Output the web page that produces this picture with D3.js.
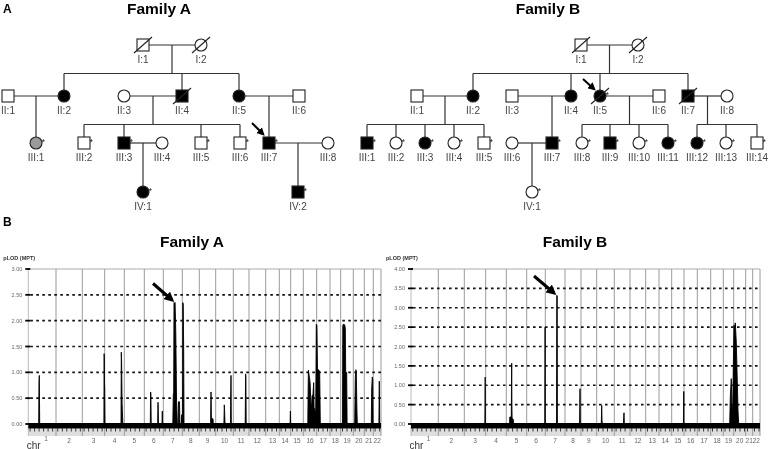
<!DOCTYPE html>
<html><head><meta charset="utf-8">
<script src="https://cdn.jsdelivr.net/npm/d3@7"></script>
<style>body{margin:0;background:#fff}svg{display:block;will-change:transform}text{font-family:"Liberation Sans",Arial,sans-serif}</style>
</head><body><svg id="c" width="769" height="449"></svg>
<script>
// ---------------- DATA ----------------
const chromosomes = d3.range(1, 23).map(String);
// approximate chromosome map lengths (cM) used by each linkage plot
const chrLenA = [277,263,224,196,200,190,190,170,164,176,157,167,136,114,126,134,133,107,126,110,90,77];
const chrLenB = [273,260,214,206,204,186,197,160,157,176,157,157,133,127,123,133,134,126,104,120,70,73];
const yTicksA = [0, 0.5, 1, 1.5, 2, 2.5, 3];
const yTicksB = [0, 0.5, 1, 1.5, 2, 2.5, 3, 3.5, 4];
// LOD profile points: [chromosome, cM within chromosome, pLOD]
const lodA = [
 [1,104,0],[1,107,0.82],[1,110,0.94],[1,114,0],
 [3,216,0],[3,218,1.36],[3,220,1.3],[3,222,0.78],[3,224,0.7],[4,3,0],
 [4,163,0],[4,166,1.39],[4,169,1.2],[4,174,0.4],[4,181,0],
 [6,60,0],[6,63,0.62],[6,66,0.58],[6,69,0],
 [6,134,0],[6,137,0.42],[6,139,0.3],[6,142,0],
 [6,177,0],[6,180,0.25],[6,183,0],
 [7,95,0],[7,100,0.57],[7,104,0.6],[7,107,2.35],[7,112,2.33],[7,118,2.35],[7,125,1.75],[7,132,0.5],[7,140,0],
 [7,148,0],[7,152,0.43],[7,162,0.43],[7,166,0],[7,180,0],[7,184,0.18],[7,188,0],
 [8,2,0],[8,5,2.35],[8,9,2.32],[8,14,1.4],[8,17,0],
 [9,113,0],[9,117,0.62],[9,121,0.1],[9,137,0.1],[9,140,0],
 [10,82,0],[10,86,0.37],[10,90,0.2],[10,93,0],
 [10,148,0],[10,150,0.5],[10,153,0.94],[10,156,0],
 [11,119,0],[11,123,0.97],[11,126,0.9],[11,129,0],
 [14,108,0],[14,111,0.25],[14,114,0],
 [16,45,0],[16,48,0.6],[16,51,1.04],[16,60,0.92],[16,68,0.8],[16,76,0.4],[16,82,0.33],[16,88,0.55],[16,96,0.55],
 [16,104,0.8],[16,108,0.3],[16,114,0.3],[16,124,0.2],[16,130,1.93],[17,2,1.9],[17,8,1.05],[17,20,1.05],[17,30,1.0],[17,36,0],
 [19,18,0],[19,21,1.9],[19,25,1.93],[19,40,1.92],[19,46,1.85],[19,50,1.0],[19,60,1.0],[19,64,0],
 [20,14,0],[20,20,0.9],[20,26,1.05],[20,30,1.0],[20,36,0.3],[20,40,0],
 [21,70,0],[21,74,0.68],[21,80,0.91],[21,84,0.85],[21,88,0],
 [22,56,0],[22,60,0.83],[22,64,0]
];
const lodB = [
 [3,206,0],[3,209,1.21],[3,211,0],
 [5,32,0],[5,35,0.18],[5,50,0.18],[5,52,1.0],[5,54,1.57],[5,56,0.5],[5,58,0.15],[5,70,0.12],[5,72,0],
 [6,181,0],[6,184,2.5],[6,186,0],
 [7,112,0],[7,115,3.32],[7,119,3.3],[7,121,0],
 [8,146,0],[8,150,0.91],[8,153,0],
 [10,46,0],[10,50,0.48],[10,53,0.1],[10,56,0],
 [11,92,0],[11,95,0.2],[11,97,0.29],[11,100,0],
 [15,117,0],[15,121,0.84],[15,123,0],
 [19,64,0],[19,70,0.7],[19,74,0.9],[19,80,1.17],[19,86,0.5],[19,94,0.3],[19,100,1.5],
 [20,3,2.55],[20,10,2.5],[20,16,2.61],[20,26,2.1],[20,32,1.5],[20,36,1.1],[20,43,0.35],[20,50,0]
];
// pedigrees: sex M/F, status A affected / U unaffected / G grey, dec deceased, star genotyped
const pedA = [
 {id:"I:1",sex:"M",st:"U",dec:1,star:0},{id:"I:2",sex:"F",st:"U",dec:1,star:0},
 {id:"II:1",sex:"M",st:"U",dec:0,star:0},{id:"II:2",sex:"F",st:"A",dec:0,star:0},
 {id:"II:3",sex:"F",st:"U",dec:0,star:0},{id:"II:4",sex:"M",st:"A",dec:1,star:0},
 {id:"II:5",sex:"F",st:"A",dec:0,star:0},{id:"II:6",sex:"M",st:"U",dec:0,star:0},
 {id:"III:1",sex:"F",st:"G",dec:0,star:1},{id:"III:2",sex:"M",st:"U",dec:0,star:1},
 {id:"III:3",sex:"M",st:"A",dec:0,star:1},{id:"III:4",sex:"F",st:"U",dec:0,star:0},
 {id:"III:5",sex:"M",st:"U",dec:0,star:1},{id:"III:6",sex:"M",st:"U",dec:0,star:1},
 {id:"III:7",sex:"M",st:"A",dec:0,star:1,proband:1},{id:"III:8",sex:"F",st:"U",dec:0,star:0},
 {id:"IV:1",sex:"F",st:"A",dec:0,star:1},{id:"IV:2",sex:"M",st:"A",dec:0,star:1}
];
const unionsA = [
 {p:["I:1","I:2"],kids:["II:2","II:4","II:5"]},
 {p:["II:1","II:2"],kids:["III:1"]},
 {p:["II:3","II:4"],kids:["III:2","III:3","III:5","III:6"]},
 {p:["II:5","II:6"],kids:["III:7"]},
 {p:["III:3","III:4"],kids:["IV:1"]},
 {p:["III:7","III:8"],kids:["IV:2"]}
];
const pedB = [
 {id:"I:1",sex:"M",st:"U",dec:1,star:0},{id:"I:2",sex:"F",st:"U",dec:1,star:0},
 {id:"II:1",sex:"M",st:"U",dec:0,star:0},{id:"II:2",sex:"F",st:"A",dec:0,star:0},
 {id:"II:3",sex:"M",st:"U",dec:0,star:0},{id:"II:4",sex:"F",st:"A",dec:0,star:0},
 {id:"II:5",sex:"F",st:"A",dec:1,star:1,proband:1},{id:"II:6",sex:"M",st:"U",dec:0,star:0},
 {id:"II:7",sex:"M",st:"A",dec:1,star:0},{id:"II:8",sex:"F",st:"U",dec:0,star:0},
 {id:"III:1",sex:"M",st:"A",dec:0,star:1},{id:"III:2",sex:"F",st:"U",dec:0,star:1},
 {id:"III:3",sex:"F",st:"A",dec:0,star:1},{id:"III:4",sex:"F",st:"U",dec:0,star:1},
 {id:"III:5",sex:"M",st:"U",dec:0,star:1},{id:"III:6",sex:"F",st:"U",dec:0,star:0},
 {id:"III:7",sex:"M",st:"A",dec:0,star:1},{id:"III:8",sex:"F",st:"U",dec:0,star:1},
 {id:"III:9",sex:"M",st:"A",dec:0,star:1},{id:"III:10",sex:"F",st:"U",dec:0,star:1},
 {id:"III:11",sex:"F",st:"A",dec:0,star:1},{id:"III:12",sex:"F",st:"A",dec:0,star:1},
 {id:"III:13",sex:"F",st:"U",dec:0,star:1},{id:"III:14",sex:"M",st:"U",dec:0,star:1},
 {id:"IV:1",sex:"F",st:"U",dec:0,star:1}
];
const unionsB = [
 {p:["I:1","I:2"],kids:["II:2","II:4","II:5","II:7"]},
 {p:["II:1","II:2"],kids:["III:1","III:2","III:3","III:4","III:5"]},
 {p:["II:3","II:4"],kids:["III:7"]},
 {p:["II:5","II:6"],kids:["III:8","III:9","III:10","III:11"]},
 {p:["II:7","II:8"],kids:["III:12","III:13","III:14"]},
 {p:["III:6","III:7"],kids:["IV:1"]}
];
// ---------------- LAYOUT ----------------
const layoutA = {"I:1":143,"I:2":201,"II:1":8,"II:2":64,"II:3":124,"II:4":182,"II:5":239,"II:6":299,
 "III:1":36,"III:2":84,"III:3":124,"III:4":162,"III:5":201,"III:6":240,"III:7":269,"III:8":328,"IV:1":143,"IV:2":298};
const layoutB = {"I:1":581,"I:2":638,"II:1":417,"II:2":473,"II:3":512,"II:4":571,"II:5":600,"II:6":659,"II:7":688,"II:8":727,
 "III:1":367,"III:2":396,"III:3":425,"III:4":454,"III:5":484,"III:6":512,"III:7":552,"III:8":582,"III:9":610,"III:10":639,
 "III:11":668,"III:12":697,"III:13":726,"III:14":757,"IV:1":532};

const svg = d3.select("#c");
svg.append("rect").attr("width",769).attr("height",449).attr("fill","#fff");
const defs = svg.append("defs");
function marker(id, size){
  defs.append("marker").attr("id",id).attr("viewBox","0 0 10 10").attr("refX",7).attr("refY",5)
    .attr("markerUnits","userSpaceOnUse").attr("markerWidth",size).attr("markerHeight",size).attr("orient","auto")
    .append("path").attr("d","M0,0L10,5L0,10z").attr("fill","#000");
}
marker("ahBig", 10); marker("ahSmall", 8);

svg.append("text").attr("x",3).attr("y",13).attr("font-size",12).attr("font-weight","bold").text("A");
svg.append("text").attr("x",3).attr("y",226).attr("font-size",12).attr("font-weight","bold").text("B");

const genY = d3.scaleOrdinal().domain(["I","II","III","IV"]).range([45,96,143,192]);

function drawPedigree(people, unions, layout, title, titleX){
  const g = svg.append("g");
  g.append("text").attr("x",titleX).attr("y",14).attr("text-anchor","middle").attr("font-size",15.5).attr("font-weight","bold").text(title);
  const X = id => layout[id];
  const Y = id => genY(id.split(":")[0]);
  const r = 6;
  const lc = "#333", lw = 1.2;
  unions.forEach(u=>{
    const [a,b] = u.p; const y = Y(a);
    const xa = X(a), xb = X(b);
    const left = Math.min(xa,xb), right = Math.max(xa,xb);
    g.append("line").attr("x1",left+r).attr("x2",right-r).attr("y1",y).attr("y2",y).attr("stroke",lc).attr("stroke-width",lw);
    if (u.kids.length===1){
      const k = u.kids[0]; const kx = X(k);
      g.append("line").attr("x1",kx).attr("x2",kx).attr("y1",y).attr("y2",Y(k)-r).attr("stroke",lc).attr("stroke-width",lw);
    } else {
      const mx = (xa+xb)/2, sy = y + 28.5;
      const kxs = u.kids.map(X);
      g.append("line").attr("x1",mx).attr("x2",mx).attr("y1",y).attr("y2",sy).attr("stroke",lc).attr("stroke-width",lw);
      g.append("line").attr("x1",d3.min(kxs)).attr("x2",d3.max(kxs)).attr("y1",sy).attr("y2",sy).attr("stroke",lc).attr("stroke-width",lw);
      u.kids.forEach(k=>{
        g.append("line").attr("x1",X(k)).attr("x2",X(k)).attr("y1",sy).attr("y2",Y(k)-r).attr("stroke",lc).attr("stroke-width",lw);
      });
    }
  });
  people.forEach(p=>{
    const x = X(p.id), y = Y(p.id);
    const fill = p.st==="A" ? "#000" : p.st==="G" ? "#9a9a9a" : "#fff";
    if (p.sex==="M") g.append("rect").attr("x",x-r).attr("y",y-r).attr("width",2*r).attr("height",2*r).attr("fill",fill).attr("stroke","#222").attr("stroke-width",1.1);
    else g.append("circle").attr("cx",x).attr("cy",y).attr("r",r).attr("fill",fill).attr("stroke","#222").attr("stroke-width",1.1);
    if (p.dec) g.append("line").attr("x1",x-9).attr("y1",y+8).attr("x2",x+9).attr("y2",y-8).attr("stroke","#222").attr("stroke-width",1.1);
    if (p.star) g.append("text").attr("x",x+5.5).attr("y",y+2).attr("font-size",9).attr("fill","#222").text("*");
    g.append("text").attr("x",x).attr("y",y+17.5).attr("text-anchor","middle").attr("font-size",10).attr("fill","#444").text(p.id);
  });
  return g;
}
drawPedigree(pedA, unionsA, layoutA, "Family A", 159);
drawPedigree(pedB, unionsB, layoutB, "Family B", 548);
function arrow(x1,y1,x2,y2,w,m){
  svg.append("line").attr("x1",x1).attr("y1",y1).attr("x2",x2).attr("y2",y2).attr("stroke","#000").attr("stroke-width",w).attr("marker-end",`url(#${m})`);
}
arrow(252,123,263,134,2,"ahSmall");
arrow(583,79,594,89,2,"ahSmall");

// ---------------- LOD PLOTS ----------------
function drawLod(lens, data, ticks, x0, x1, title, titleX){
  const g = svg.append("g");
  const starts = d3.cumsum([0].concat(lens));
  const total = starts[lens.length];
  const x = d3.scaleLinear().domain([0,total]).range([x0,x1]);
  const ymax = d3.max(ticks);
  const y = d3.scaleLinear().domain([0,ymax]).range([424,269]);
  const yBandTop = 428.5, yBandBot = 436;
  g.append("text").attr("x",titleX).attr("y",247).attr("text-anchor","middle").attr("font-size",15.5).attr("font-weight","bold").text(title);
  g.append("text").attr("x",x0-25).attr("y",260).attr("font-size",5.5).attr("font-weight","bold").attr("fill","#333").text("pLOD (MPT)");
  g.append("rect").attr("x",x0).attr("y",yBandTop).attr("width",x1-x0).attr("height",yBandBot-yBandTop).attr("fill","#dedede");
  g.selectAll("line.chr").data(starts.slice(1)).enter().append("line")
    .attr("x1",d=>x(d)).attr("x2",d=>x(d)).attr("y1",y(ymax)).attr("y2",yBandBot).attr("stroke","#9a9a9a").attr("stroke-width",1);
  g.append("line").attr("x1",x0).attr("x2",x0).attr("y1",y(ymax)).attr("y2",yBandBot).attr("stroke","#bbb");
  g.append("line").attr("x1",x0).attr("x2",x1).attr("y1",y(ymax)).attr("y2",y(ymax)).attr("stroke","#aaa");
  g.selectAll("line.grid").data(ticks.filter(t=>t>0 && t<ymax)).enter().append("line")
    .attr("x1",x0+2).attr("x2",x1).attr("y1",d=>y(d)).attr("y2",d=>y(d)).attr("stroke","#111").attr("stroke-width",1.6).attr("stroke-dasharray","2.6,3.4");
  g.selectAll("line.yt").data(ticks).enter().append("line")
    .attr("x1",x0-3).attr("x2",x0+2).attr("y1",d=>y(d)).attr("y2",d=>y(d)).attr("stroke","#000").attr("stroke-width",1.8);
  g.selectAll("text.yl").data(ticks).enter().append("text")
    .attr("x",x0-6).attr("y",d=>y(d)+2).attr("text-anchor","end").attr("font-size",5.5).attr("fill","#666").text(d=>d.toFixed(2));
  const pts = data.map(d=>({pos: starts[d[0]-1]+d[1], lod:d[2]})).sort((a,b)=>a.pos-b.pos);
  const area = d3.area().x(d=>x(d.pos)).y0(y(0)).y1(d=>y(d.lod));
  g.append("path").datum(pts).attr("d",area).attr("fill","#000").attr("stroke","#000").attr("stroke-width",0.9).attr("stroke-linejoin","round");
  g.append("rect").attr("x",x0).attr("y",423).attr("width",x1-x0).attr("height",5.5).attr("fill","#000");
  const mk = [];
  lens.forEach((L,i)=>{ for(let p=18;p<L-8;p+=45) mk.push(starts[i]+p); });
  g.selectAll("line.mk").data(mk).enter().append("line")
    .attr("x1",d=>x(d)).attr("x2",d=>x(d)).attr("y1",428).attr("y2",431.5).attr("stroke","#222").attr("stroke-width",0.9);
  g.selectAll("text.cl").data(chromosomes).enter().append("text")
    .attr("x",(d,i)=>x(starts[i]+lens[i]/2) + (i===0 ? 4 : 0)).attr("y",(d,i)=> i===0 ? 441 : 443).attr("text-anchor","middle")
    .attr("font-size",6.5).attr("fill","#666").text(d=>d);
  g.append("text").attr("x",x0-1.5).attr("y",448.5).attr("font-size",10).attr("fill","#333").text("chr");
  return {x,y,starts};
}
drawLod(chrLenA, lodA, yTicksA, 28.3, 381, "Family A", 192);
drawLod(chrLenB, lodB, yTicksB, 411, 760, "Family B", 575);
arrow(153,283.5,172,300,3,"ahBig");
arrow(534,276,554,293,3,"ahBig");
</script></body></html>
